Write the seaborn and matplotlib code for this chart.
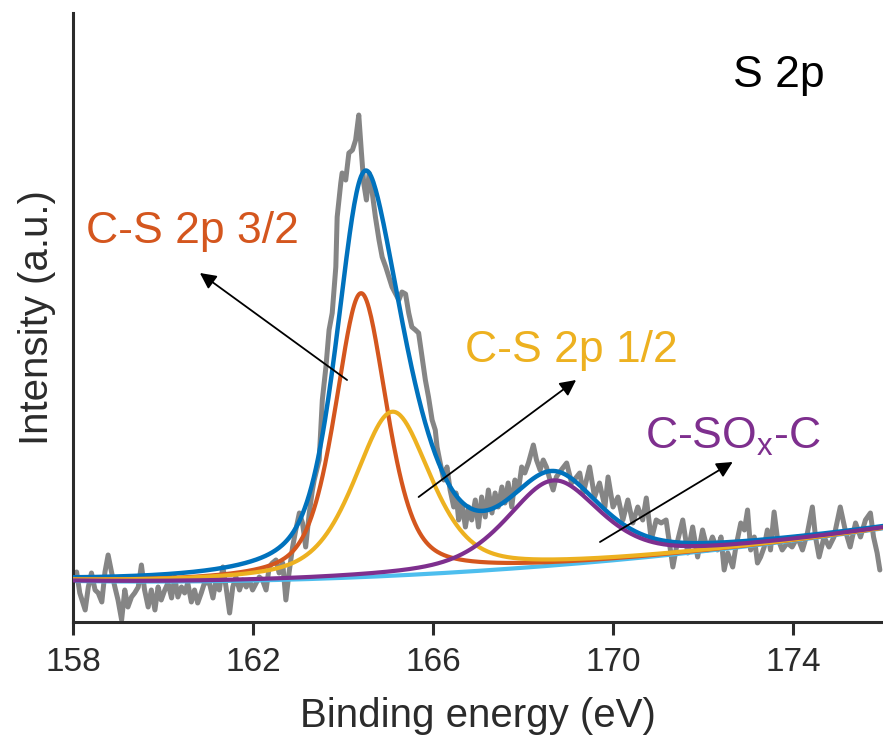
import numpy as np
import pandas as pd
import matplotlib
matplotlib.use("Agg")
import matplotlib.pyplot as plt
import seaborn as sns

# ---------------- data ----------------
energy = [158.01, 158.08, 158.15, 158.27, 158.34, 158.41, 158.49, 158.56, 158.64, 158.71,
          158.78, 158.86, 158.93, 159.00, 159.08, 159.15, 159.22, 159.30, 159.37, 159.45,
          159.52, 159.59, 159.67, 159.74, 159.82, 159.89, 159.96, 160.04, 160.11, 160.19,
          160.26, 160.33, 160.41, 160.48, 160.55, 160.63, 160.70, 160.77, 160.85, 160.92,
          161.03, 161.11, 161.18, 161.25, 161.33, 161.40, 161.48, 161.55, 161.62, 161.70,
          161.77, 161.85, 161.92, 161.99, 162.07, 162.14, 162.21, 162.29, 162.36, 162.43,
          162.51, 162.58, 162.66, 162.73, 162.80, 162.88, 162.95, 163.03, 163.10, 163.17,
          163.25, 163.32, 163.36, 163.47, 163.54, 163.62, 163.69, 163.76, 163.84, 163.87,
          163.95, 163.98, 164.06, 164.13, 164.21, 164.28, 164.35, 164.41, 164.46, 164.52,
          164.58, 164.65, 164.72, 164.80, 164.87, 164.95, 165.02, 165.09, 165.24, 165.31,
          165.39, 165.46, 165.53, 165.61, 165.68, 165.83, 165.90, 165.98, 166.05, 166.09,
          166.16, 166.24, 166.31, 166.38, 166.46, 166.51, 166.57, 166.64, 166.72, 166.79,
          166.86, 166.94, 167.01, 167.08, 167.16, 167.23, 167.31, 167.38, 167.45, 167.53,
          167.60, 167.67, 167.75, 167.82, 167.90, 167.97, 168.04, 168.12, 168.23, 168.30,
          168.38, 168.45, 168.52, 168.60, 168.67, 168.74, 168.85, 168.97, 169.08, 169.19,
          169.26, 169.34, 169.48, 169.59, 169.70, 169.82, 169.89, 170.00, 170.11, 170.22,
          170.33, 170.44, 170.55, 170.66, 170.74, 170.85, 170.96, 171.07, 171.18, 171.33,
          171.44, 171.55, 171.66, 171.77, 171.88, 171.99, 172.10, 172.21, 172.32, 172.40,
          172.47, 172.55, 172.66, 172.73, 172.84, 172.92, 172.99, 173.06, 173.14, 173.21,
          173.28, 173.36, 173.43, 173.50, 173.58, 173.65, 173.76, 173.87, 173.98, 174.10,
          174.21, 174.32, 174.43, 174.50, 174.58, 174.69, 174.80, 174.91, 175.05, 175.16,
          175.27, 175.39, 175.50, 175.61, 175.72, 175.79, 175.87, 175.93]
counts = [42, 50, 29, 12, 35, 49, 32, 29, 20, 50,
          67, 49, 35, 22, 2, 32, 15, 25, 29, 35,
          57, 32, 15, 32, 12, 35, 22, 32, 39, 24,
          45, 25, 35, 29, 39, 20, 32, 19, 29, 39,
          39, 24, 42, 32, 55, 35, 9, 35, 45, 32,
          42, 35, 42, 32, 39, 45, 42, 32, 55, 59,
          62, 49, 59, 22, 49, 75, 92, 109, 99, 75,
          109, 132, 142, 162, 222, 255, 292, 309, 355, 405,
          439, 449, 442, 469, 472, 482, 507, 469, 439, 422,
          449, 429, 405, 382, 365, 355, 345, 335, 322, 330,
          328, 309, 295, 292, 289, 242, 225, 202, 192, 175,
          159, 142, 155, 132, 115, 129, 102, 119, 95, 115,
          102, 122, 95, 125, 105, 132, 109, 129, 115, 135,
          119, 139, 115, 142, 132, 155, 149, 159, 177, 162,
          152, 162, 155, 142, 132, 145, 152, 159, 139, 145,
          149, 129, 155, 125, 139, 115, 145, 115, 125, 102,
          122, 99, 115, 102, 124, 82, 102, 99, 102, 55,
          82, 102, 69, 95, 65, 92, 72, 85, 72, 85,
          52, 69, 55, 75, 99, 92, 112, 72, 85, 59,
          65, 75, 92, 72, 110, 85, 72, 79, 75, 85,
          72, 89, 115, 85, 65, 85, 75, 85, 115, 92,
          75, 99, 85, 102, 109, 85, 69, 52]

# fitted components: (centre eV, height, FWHM eV)
peak_names = ["C-S 2p 3/2", "C-S 2p 1/2", "C-SOx-C"]
peak_centers = [164.40, 165.10, 168.67]
peak_heights = [284, 164, 85]
peak_fwhm = [1.36, 2.0, 2.45]
peak_eta = [0.5, 0.5, 0.5]
# background polynomial (relative to 158 eV)
bg_coeffs = [41.0, -0.676, 0.2]

x_ticks = [158, 162, 166, 170, 174]

# ---------------- style ----------------
sns.set_theme(style="ticks")
plt.rcParams["font.family"] = ["Liberation Sans", "DejaVu Sans"]
plt.rcParams["mathtext.fontset"] = "custom"
plt.rcParams["mathtext.rm"] = "Liberation Sans"
plt.rcParams["mathtext.it"] = "Liberation Sans"

c_total = "#0072BD"
c_32 = "#D4561E"
c_12 = "#EDB120"
c_sox = "#7E2F8E"
c_bg = "#4DBEEE"
c_raw = "#858585"
c_axis = "#2b2b2b"

fig = plt.figure(figsize=(8.83, 7.44), dpi=100)
ax = fig.add_axes([0.0827, 0.164, 0.9173, 0.8185])

xf = np.linspace(158, 176, 721)
t = xf - 158
bg = bg_coeffs[0] + bg_coeffs[1] * t + bg_coeffs[2] * t ** 2


def pv(x, c, h, w, eta):
    g = np.exp(-4 * np.log(2) * ((x - c) / w) ** 2)
    lo = 1.0 / (1.0 + (2 * (x - c) / w) ** 2)
    return h * (eta * lo + (1 - eta) * g)


comps = [pv(xf, c, h, w, e) for c, h, w, e in zip(peak_centers, peak_heights, peak_fwhm, peak_eta)]
total = bg + sum(comps)

raw = pd.DataFrame({"energy": energy, "counts": counts})
sns.lineplot(data=raw, x="energy", y="counts", ax=ax, color=c_raw, lw=3.6, zorder=1)

fit = pd.DataFrame({"energy": xf, "bg": bg, "total": total,
                    "p32": bg + comps[0], "p12": bg + comps[1], "sox": bg + comps[2]})
sns.lineplot(data=fit, x="energy", y="bg", ax=ax, color=c_bg, lw=3, zorder=2)
sns.lineplot(data=fit, x="energy", y="total", ax=ax, color=c_total, lw=3.2, zorder=3)
sns.lineplot(data=fit, x="energy", y="p32", ax=ax, color=c_32, lw=3, zorder=4)
sns.lineplot(data=fit, x="energy", y="p12", ax=ax, color=c_12, lw=3, zorder=5)
sns.lineplot(data=fit, x="energy", y="sox", ax=ax, color=c_sox, lw=3, zorder=6)

ax.set_xlim(158, 176)
ax.set_ylim(0, 609)
ax.set_xticks(x_ticks)
ax.set_xticklabels([str(v) for v in x_ticks])
ax.set_yticks([])
sns.despine(ax=ax)
for s in ["left", "bottom"]:
    ax.spines[s].set_linewidth(2.2)
    ax.spines[s].set_color(c_axis)
ax.tick_params(axis="x", direction="out", length=9, width=2.2, color=c_axis,
               labelsize=24, labelcolor=c_axis, pad=9)
ax.set_xlabel("Binding energy (eV)", fontsize=29, color=c_axis, labelpad=14)
ax.set_ylabel("Intensity (a.u.)", fontsize=29, color=c_axis, labelpad=12)

# texts
ax.text(172.66, 547, "S 2p", fontsize=32, color="black", va="center", ha="left")
ax.text(158.28, 391, "C-S 2p 3/2", fontsize=32, color=c_32, va="center", ha="left")
ax.text(166.72, 272, "C-S 2p 1/2", fontsize=32, color=c_12, va="center", ha="left")
ax.text(170.71, 185, r"C-SO$_\mathrm{x}$-C", fontsize=32, color=c_sox, va="center", ha="left")

arrow_kw = dict(arrowstyle="-|>", color="black", lw=1.3, mutation_scale=24, shrinkA=0, shrinkB=0)
ax.annotate("", xy=(160.82, 349), xytext=(164.09, 242), arrowprops=arrow_kw, zorder=8)
ax.annotate("", xy=(169.18, 242), xytext=(165.68, 125), arrowprops=arrow_kw, zorder=8)
ax.annotate("", xy=(172.66, 160), xytext=(169.71, 80), arrowprops=arrow_kw, zorder=8)

fig.savefig("out.png", dpi=100)
